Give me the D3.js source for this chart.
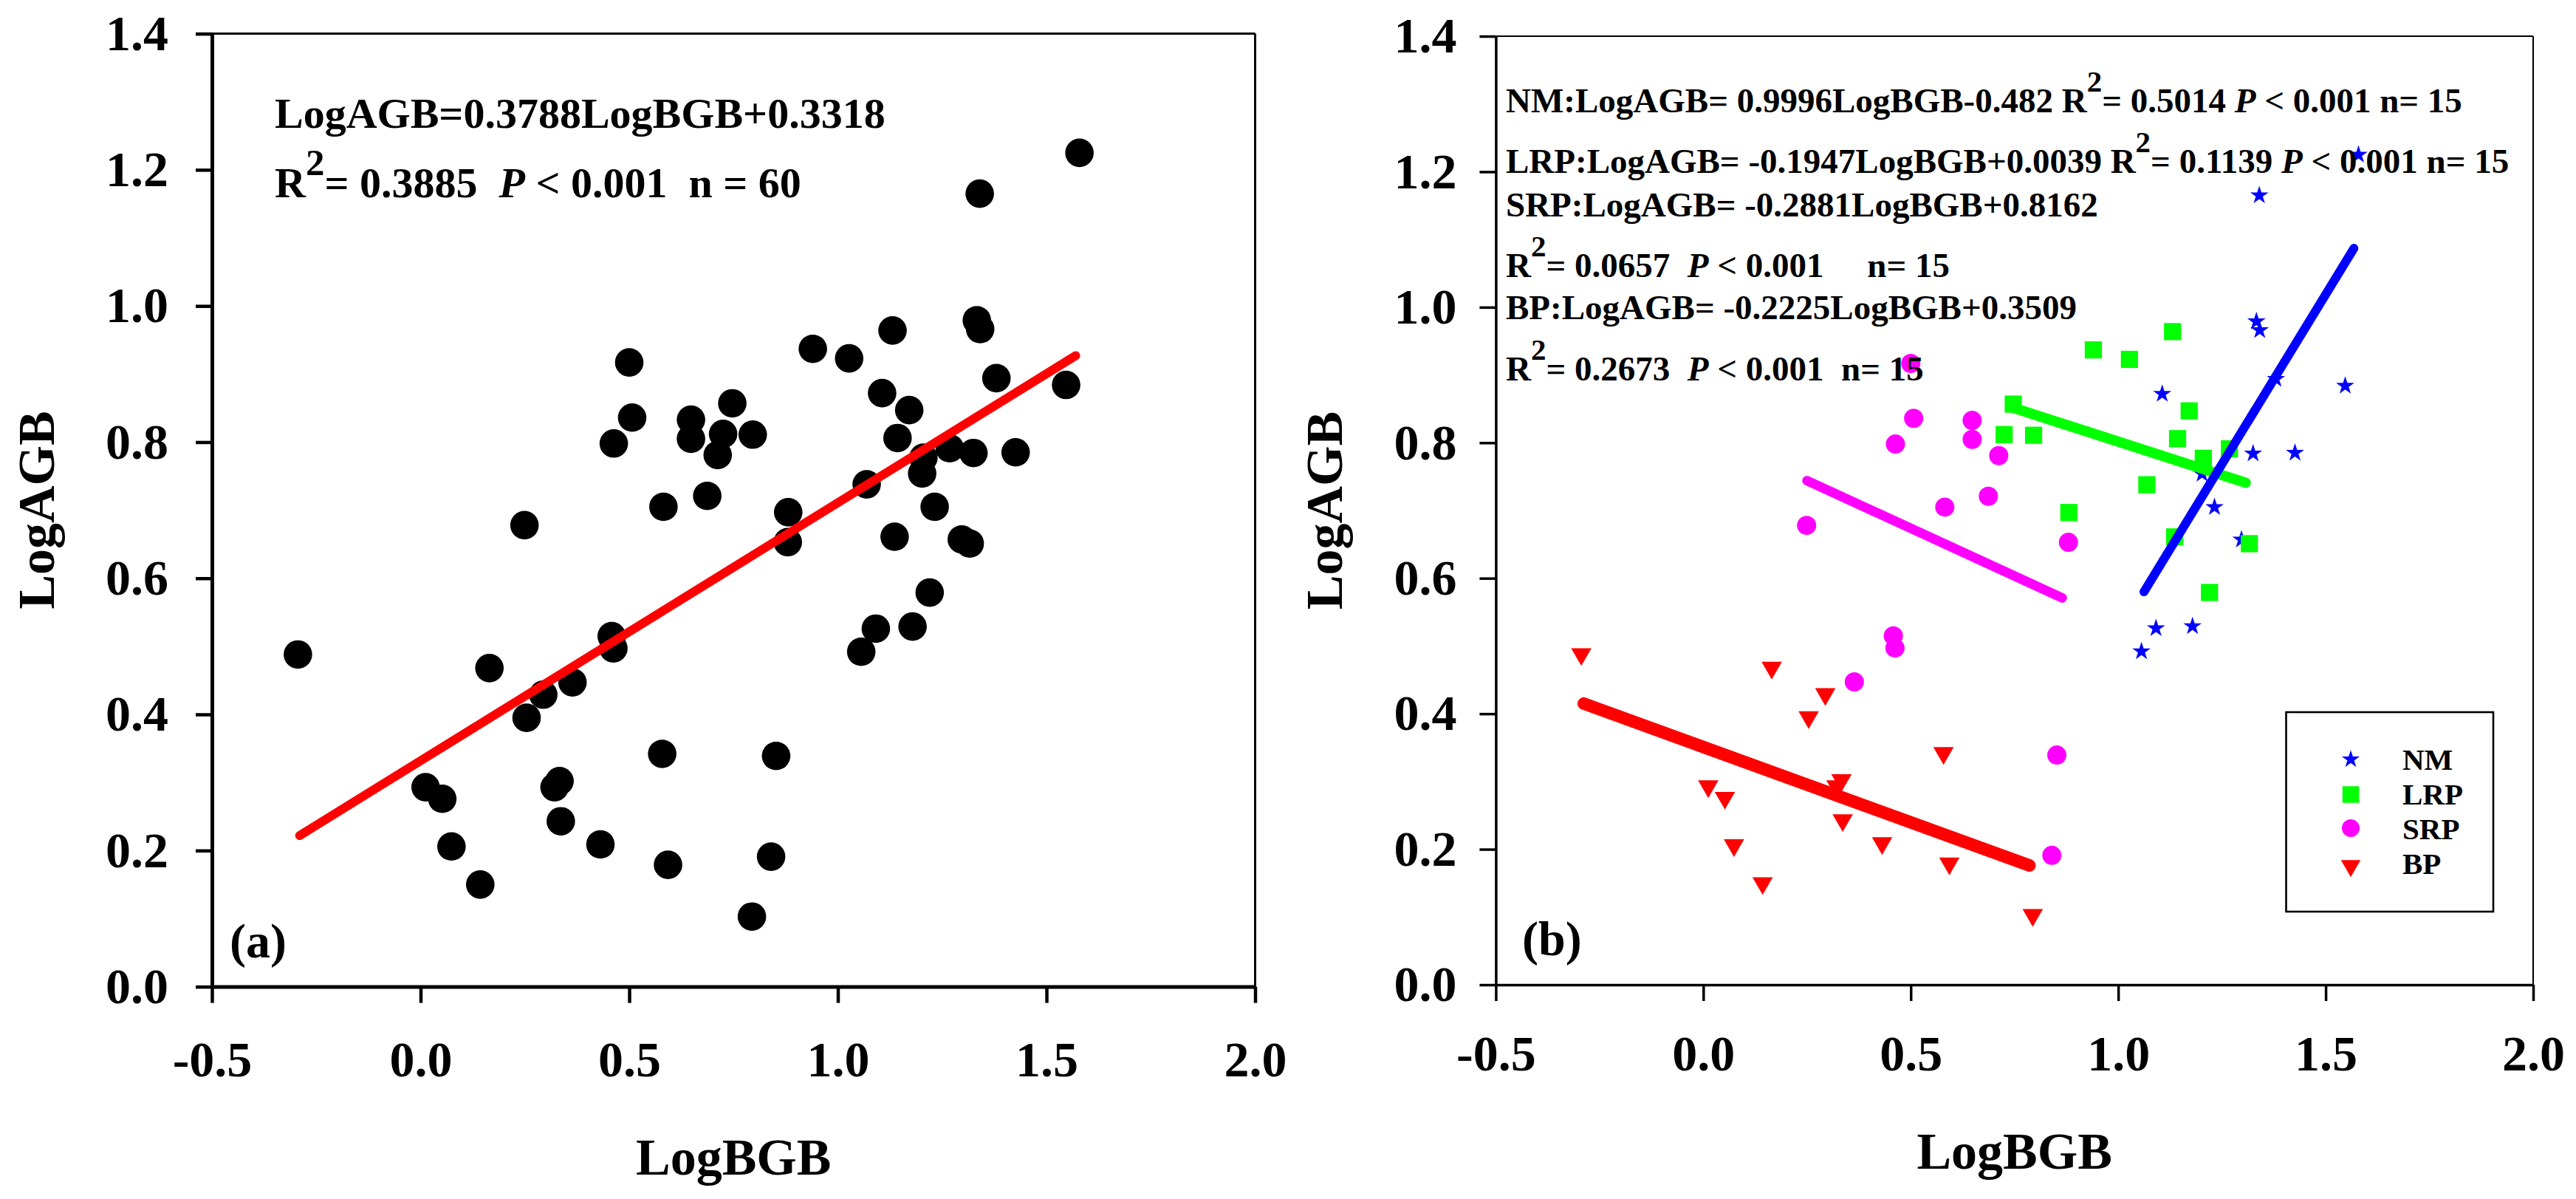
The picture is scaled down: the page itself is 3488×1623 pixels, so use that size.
<!DOCTYPE html>
<html>
<head>
<meta charset="utf-8">
<script src="https://cdn.jsdelivr.net/npm/d3@7"></script>
<style>
  body { margin: 0; background: #fff; }
  svg { display: block; }
  text { font-family: "Liberation Serif", "Times New Roman", serif; font-weight: bold; white-space: pre; }
</style>
</head>
<body>
<svg id="chart" width="3488" height="1623"></svg>
<script>
// ---------------- data ----------------
const xTicks = [-0.5, 0.0, 0.5, 1.0, 1.5, 2.0];
const yTicks = [0.0, 0.2, 0.4, 0.6, 0.8, 1.0, 1.2, 1.4];
const groups = ["NM", "LRP", "SRP", "BP"];

const nmPoints = [
  [1.579, 1.225], [1.340, 1.165], [1.333, 0.979], [1.341, 0.966], [1.106, 0.872],
  [1.380, 0.894], [1.547, 0.884], [1.325, 0.784], [1.426, 0.785], [1.232, 0.705],
  [1.202, 0.754], [1.297, 0.657], [1.056, 0.492], [1.091, 0.526], [1.179, 0.529]
];
const lrpPoints = [
  [0.940, 0.937], [1.027, 0.923], [1.131, 0.964], [0.747, 0.857], [1.171, 0.847],
  [0.725, 0.812], [0.796, 0.811], [1.143, 0.806], [1.268, 0.791], [1.205, 0.777],
  [1.069, 0.738], [0.881, 0.697], [1.136, 0.661], [1.316, 0.651], [1.220, 0.579]
];
const srpPoints = [
  [0.500, 0.917], [0.507, 0.836], [0.463, 0.798], [0.648, 0.833], [0.648, 0.805],
  [0.712, 0.781], [0.687, 0.721], [0.582, 0.705], [0.249, 0.678], [0.880, 0.653],
  [0.458, 0.515], [0.462, 0.497], [0.364, 0.447], [0.852, 0.339], [0.840, 0.191]
];
const bpPoints = [
  [-0.294, 0.488], [0.165, 0.468], [0.294, 0.429], [0.254, 0.395], [0.579, 0.342],
  [0.012, 0.293], [0.052, 0.276], [0.333, 0.302], [0.321, 0.293], [0.336, 0.243],
  [0.074, 0.206], [0.431, 0.209], [0.593, 0.179], [0.143, 0.150], [0.794, 0.103]
];

// fitted line end points
const allFit = [[-0.29, 0.222], [1.57, 0.927]];
const nmFit  = [[1.062, 0.580], [1.568, 1.087]];
const lrpFit = [[0.745, 0.852], [1.307, 0.741]];
const srpFit = [[0.250, 0.744], [0.865, 0.571]];
const bpFit  = [[-0.288, 0.415], [0.786, 0.176]];

const colors = { NM: "#0000ff", LRP: "#00ff00", SRP: "#ff00ff", BP: "#ff0000" };
const groupPoints = { NM: nmPoints, LRP: lrpPoints, SRP: srpPoints, BP: bpPoints };
const groupFits = { NM: nmFit, LRP: lrpFit, SRP: srpFit, BP: bpFit };

// ---------------- drawing ----------------
const svg = d3.select("#chart");
svg.append("rect").attr("width", 3488).attr("height", 1623).attr("fill", "#fff");

const FONT = '"Liberation Serif", "Times New Roman", serif';
const fmt = d => d3.format(".1f")(d).replace("\u2212", "-");

function panel(cfg) {
  const x = d3.scaleLinear().domain([-0.5, 2.0]).range([cfg.left, cfg.right]);
  const y = d3.scaleLinear().domain([0, 1.4]).range([cfg.bottom, cfg.top]);
  const g = svg.append("g");

  // frame (top + right)
  g.append("line").attr("x1", cfg.left).attr("x2", cfg.right).attr("y1", cfg.top).attr("y2", cfg.top)
    .attr("stroke", "#000").attr("stroke-width", cfg.frameW);
  g.append("line").attr("x1", cfg.right).attr("x2", cfg.right).attr("y1", cfg.top).attr("y2", cfg.bottom)
    .attr("stroke", "#000").attr("stroke-width", cfg.frameW);

  const xAxis = d3.axisBottom(x).tickValues(xTicks).tickFormat(fmt)
    .tickSize(22).tickSizeOuter(0).tickPadding(cfg.xPad);
  const yAxis = d3.axisLeft(y).tickValues(yTicks).tickFormat(fmt)
    .tickSize(22).tickSizeOuter(0).tickPadding(cfg.yPad);

  const gx = g.append("g").attr("transform", `translate(0,${cfg.bottom})`).call(xAxis);
  const gy = g.append("g").attr("transform", `translate(${cfg.left},0)`).call(yAxis);
  [gx, gy].forEach(ax => {
    ax.select(".domain").attr("stroke", "#000").attr("stroke-width", cfg.axisW);
    ax.selectAll(".tick line").attr("stroke", "#000").attr("stroke-width", cfg.tickW);
    ax.selectAll(".tick text").attr("fill", "#000")
      .style("font-family", FONT).style("font-weight", "bold").style("font-size", "68px");
  });

  // axis titles
  g.append("text").attr("x", (cfg.left + cfg.right) / 2).attr("y", cfg.xTitleY)
    .attr("text-anchor", "middle").style("font-size", "70px").text("LogBGB");
  g.append("text").attr("transform", `translate(${cfg.yTitleX},${(cfg.top + cfg.bottom) / 2}) rotate(-90)`)
    .attr("text-anchor", "middle").style("font-size", "70px").text("LogAGB");

  // panel label
  g.append("text").attr("x", cfg.labelX).attr("y", cfg.labelY).style("font-size", "66px").text(cfg.label);

  return { x, y, g };
}

function richText(g, x, y, size, supSize, raise, parts) {
  const t = g.append("text").attr("x", x).attr("y", y).style("font-size", size + "px");
  let pendingDown = 0;
  parts.forEach(p => {
    const s = t.append("tspan").text(p.t);
    let dy = pendingDown;
    pendingDown = 0;
    if (p.sup) { s.style("font-size", supSize + "px"); dy -= raise; pendingDown = raise; }
    if (p.it) s.style("font-style", "italic");
    if (dy) s.attr("dy", dy);
  });
  return t;
}

// ---------- panel (a) ----------
const A = panel({
  left: 287, right: 1699.5, top: 45.6, bottom: 1335.6,
  frameW: 3, axisW: 5, tickW: 4.5, xPad: 51, yPad: 37,
  xTitleY: 1590, yTitleX: 73, labelX: 311, labelY: 1296, label: "(a)"
});
const allPoints = [].concat(nmPoints, lrpPoints, srpPoints, bpPoints);
A.g.append("g").selectAll("circle").data(allPoints).join("circle")
  .attr("cx", d => A.x(d[0])).attr("cy", d => A.y(d[1])).attr("r", 19.3).attr("fill", "#000");
A.g.append("line")
  .attr("x1", A.x(allFit[0][0])).attr("y1", A.y(allFit[0][1]))
  .attr("x2", A.x(allFit[1][0])).attr("y2", A.y(allFit[1][1]))
  .attr("stroke", "#ff0000").attr("stroke-width", 12).attr("stroke-linecap", "round");

richText(A.g, 372, 173, 58, 51, 30, [{ t: "LogAGB=0.3788LogBGB+0.3318" }]);
richText(A.g, 372, 267, 58, 51, 30, [
  { t: "R" }, { t: "2", sup: true }, { t: "= 0.3885  " }, { t: "P", it: true }, { t: " < 0.001  n = 60" }
]);

// ---------- panel (b) ----------
const B = panel({
  left: 2025.4, right: 3430, top: 49, bottom: 1333,
  frameW: 2, axisW: 3.5, tickW: 3.5, xPad: 46, yPad: 31,
  xTitleY: 1582, yTitleX: 1817, labelX: 2061, labelY: 1293, label: "(b)"
});

const symbolSizes = { NM: 190, LRP: 540, SRP: 531, BP: 330 };
const symbolTypes = { NM: d3.symbolStar, LRP: d3.symbolSquare, SRP: d3.symbolCircle, BP: d3.symbolTriangle };
function symPath(grp, scale) {
  return d3.symbol().type(symbolTypes[grp]).size(symbolSizes[grp] * (scale || 1))();
}
function symRot(grp) { return grp === "BP" ? " rotate(180)" : ""; }

groups.forEach(grp => {
  B.g.append("g").selectAll("path").data(groupPoints[grp]).join("path")
    .attr("d", symPath(grp))
    .attr("transform", d => `translate(${B.x(d[0])},${B.y(d[1])})${symRot(grp)}`)
    .attr("fill", colors[grp]);
});

const fitWidths = { NM: 12, LRP: 14, SRP: 13, BP: 17 };
["BP", "SRP", "LRP", "NM"].forEach(grp => {
  const f = groupFits[grp];
  B.g.append("line")
    .attr("x1", B.x(f[0][0])).attr("y1", B.y(f[0][1]))
    .attr("x2", B.x(f[1][0])).attr("y2", B.y(f[1][1]))
    .attr("stroke", colors[grp]).attr("stroke-width", fitWidths[grp]).attr("stroke-linecap", "round");
});

const bLines = [
  { y: 152, parts: [{ t: "NM:LogAGB= 0.9996LogBGB-0.482 R" }, { t: "2", sup: true }, { t: "= 0.5014 " }, { t: "P", it: true }, { t: " < 0.001 n= 15" }] },
  { y: 234, parts: [{ t: "LRP:LogAGB= -0.1947LogBGB+0.0039 R" }, { t: "2", sup: true }, { t: "= 0.1139 " }, { t: "P", it: true }, { t: " < 0.001 n= 15" }] },
  { y: 293, parts: [{ t: "SRP:LogAGB= -0.2881LogBGB+0.8162" }] },
  { y: 375, parts: [{ t: "R" }, { t: "2", sup: true }, { t: "= 0.0657  " }, { t: "P", it: true }, { t: " < 0.001     n= 15" }] },
  { y: 432, parts: [{ t: "BP:LogAGB= -0.2225LogBGB+0.3509" }] },
  { y: 515, parts: [{ t: "R" }, { t: "2", sup: true }, { t: "= 0.2673  " }, { t: "P", it: true }, { t: " < 0.001  n= 15" }] }
];
bLines.forEach(l => richText(B.g, 2039, l.y, 47, 41, 28, l.parts));

// legend
const leg = B.g.append("g");
leg.append("rect").attr("x", 3095.5).attr("y", 964).attr("width", 280.5).attr("height", 270)
  .attr("fill", "#fff").attr("stroke", "#000").attr("stroke-width", 2.6);
const legSymY = [1028, 1075.5, 1121, 1172];
const legTextY = [1042, 1089, 1136, 1182.5];
const legScale = { NM: 0.95, LRP: 0.93, SRP: 0.85, BP: 0.93 };
groups.forEach((grp, i) => {
  leg.append("path").attr("d", symPath(grp, legScale[grp]))
    .attr("transform", `translate(3183,${legSymY[i]})${symRot(grp)}`).attr("fill", colors[grp]);
  leg.append("text").attr("x", 3253).attr("y", legTextY[i]).style("font-size", "41px").text(grp);
});
</script>
</body>
</html>
